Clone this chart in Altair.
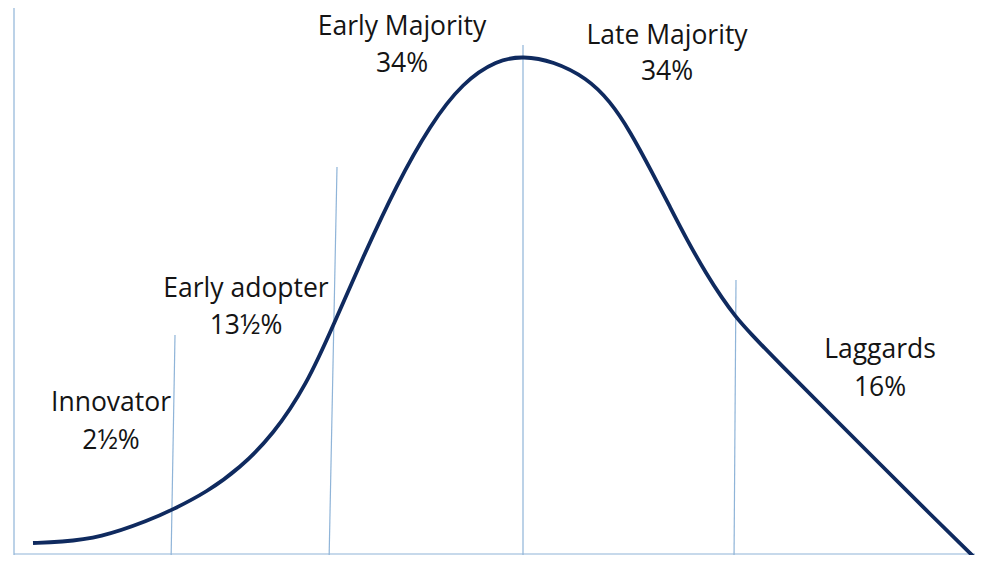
import altair as alt
import pandas as pd

# Adoption curve (in picture units: x to the right, y downward)
curve_x = [33, 60, 100, 150, 172, 207, 240, 273, 307, 333, 363, 397, 430, 463, 497, 523,
           553, 587, 610, 630, 653, 670, 687, 707, 722, 735, 750, 780, 830, 880, 930, 978]
curve_y = [543, 542, 538, 520, 510, 492, 468, 435, 384, 326, 257, 184, 125, 82, 60, 56,
           61, 78, 101, 131, 174, 207, 240, 275, 298, 316, 333, 364, 414, 464, 514, 561]

# Divider lines (top and bottom end points)
div_x1 = [14, 175, 337, 523, 736, 14]
div_y1 = [7, 335, 167, 45, 280, 554]
div_x2 = [14, 171, 329, 523, 734, 983]
div_y2 = [563, 563, 563, 563, 563, 554]

# Category labels
cat_names = ["Innovator", "Early adopter", "Early Majority", "Late Majority", "Laggards"]
cat_pcts = ["2½%", "13½%", "34%", "34%", "16%"]
label_x = [111, 246, 402, 667, 880]
label_y1 = [411, 297, 35, 44, 358]
label_y2 = [449, 334, 72, 80, 396]

curve = pd.DataFrame({"x": curve_x, "y": curve_y, "o": list(range(len(curve_x)))})
divs = pd.DataFrame({"x": div_x1, "y": div_y1, "x2": div_x2, "y2": div_y2})
labels = pd.DataFrame({
    "x": label_x * 2,
    "y": label_y1 + label_y2,
    "t": cat_names + cat_pcts,
})

xs = alt.Scale(domain=[8, 975], nice=False, zero=False)
ys = alt.Scale(domain=[8, 555], nice=False, zero=False, reverse=True)

rules = alt.Chart(divs).mark_rule(color="#8fb4d8", strokeWidth=1.2, clip=True).encode(
    x=alt.X("x:Q", scale=xs, axis=None),
    y=alt.Y("y:Q", scale=ys, axis=None),
    x2="x2:Q",
    y2="y2:Q",
)

line = alt.Chart(curve).mark_line(
    color="#0f2a5f", strokeWidth=3.8, interpolate="basis", clip=True
).encode(
    x=alt.X("x:Q", scale=xs, axis=None),
    y=alt.Y("y:Q", scale=ys, axis=None),
    order="o:Q",
)

text = alt.Chart(labels).mark_text(
    font="Open Sans", fontSize=26.5, color="#141414", align="center", baseline="alphabetic"
).encode(
    x=alt.X("x:Q", scale=xs, axis=None),
    y=alt.Y("y:Q", scale=ys, axis=None),
    text="t:N",
)

chart = alt.layer(rules, line, text).properties(
    width=967, height=547, padding=0, autosize=alt.AutoSizeParams(type="none"),
    background="white",
).configure_view(stroke=None)

chart.save("out.html", embed_options={"renderer": "svg", "actions": False})
